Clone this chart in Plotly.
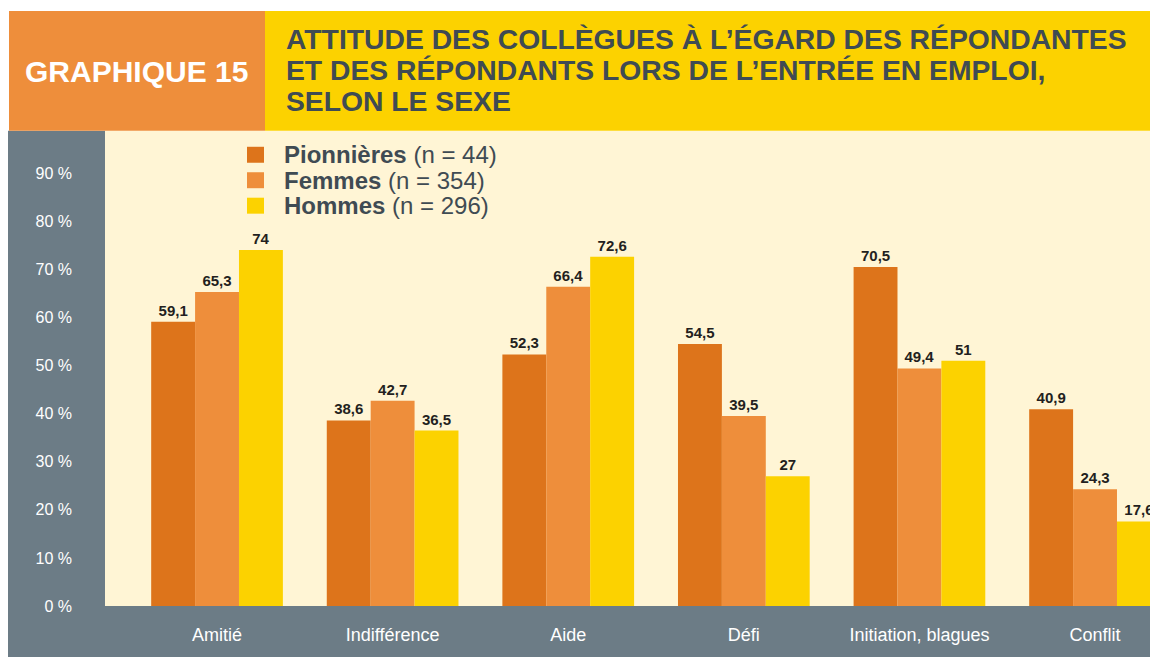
import plotly.graph_objects as go

categories = ["Amitié", "Indifférence", "Aide", "Défi", "Initiation, blagues", "Conflit"]
series = ["Pionnières", "Femmes", "Hommes"]
counts = [44, 354, 296]
pionnieres = [59.1, 38.6, 52.3, 54.5, 70.5, 40.9]
femmes = [65.3, 42.7, 66.4, 39.5, 49.4, 24.3]
hommes = [74, 36.5, 72.6, 27, 51, 17.6]
y_ticks = [0, 10, 20, 30, 40, 50, 60, 70, 80, 90]

colors = ["#DD741B", "#EE8E3B", "#FCD200"]
slate = "#6C7C86"
cream = "#FFF5D5"
ink = "#3F4B53"
sans = "Liberation Sans, Arial, Helvetica, sans-serif"

# the snapshot squeezes the page height a little (668 -> 660), so the figure is
# made 668 tall and laid out in fractions of the 660px target
W, H = 1150, 668
REF_W, REF_H = 1150, 660


def px(x):
    return x / REF_W


def py(y):
    return 1 - y / REF_H


fig = go.Figure()
for name, vals, col in zip(series, [pionnieres, femmes, hommes], colors):
    fig.add_trace(go.Bar(
        x=categories, y=vals, name=name,
        marker=dict(color=col, line=dict(width=0)),
        texttemplate="%{y}", textposition="outside",
        textfont=dict(family=sans, size=15, color="#231F20", weight="bold"),
        cliponaxis=False, showlegend=False,
    ))

shapes = [
    # left slate panel and bottom band
    dict(type="rect", xref="paper", yref="paper", x0=px(8), x1=px(105), y0=py(658), y1=py(131),
         fillcolor=slate, line_width=0, layer="below"),
    dict(type="rect", xref="paper", yref="paper", x0=px(105), x1=px(1150), y0=py(658), y1=py(607),
         fillcolor=slate, line_width=0, layer="below"),
    # header boxes
    dict(type="rect", xref="paper", yref="paper", x0=px(9), x1=px(265), y0=py(131), y1=py(11),
         fillcolor="#EE8E3B", line_width=0, layer="below"),
    dict(type="rect", xref="paper", yref="paper", x0=px(265), x1=px(1150), y0=py(131), y1=py(11),
         fillcolor="#FCD200", line_width=0, layer="below"),
]

annotations = [
    dict(text="<b>GRAPHIQUE 15</b>", x=px(136), y=py(72), xref="paper", yref="paper",
         showarrow=False, xanchor="center", yanchor="middle",
         font=dict(family=sans, size=30, color="white")),
]
title_lines = ["ATTITUDE DES COLLÈGUES À L’ÉGARD DES RÉPONDANTES",
               "ET DES RÉPONDANTS LORS DE L’ENTRÉE EN EMPLOI,",
               "SELON LE SEXE"]
for i, line in enumerate(title_lines):
    annotations.append(dict(text=f"<b>{line}</b>", x=px(284), y=py(39 + 31 * i), xref="paper", yref="paper",
                            showarrow=False, xanchor="left", yanchor="middle",
                            font=dict(family=sans, size=28.3, color=ink)))

# legend
for i, (name, n, col) in enumerate(zip(series, counts, colors)):
    cy = 155 + 25.5 * i
    shapes.append(dict(type="rect", xref="paper", yref="paper", x0=px(247), x1=px(264),
                       y0=py(cy + 8), y1=py(cy - 8), fillcolor=col, line_width=0))
    annotations.append(dict(text=f"<b>{name}</b> (n = {n})", x=px(282), y=py(cy),
                            xref="paper", yref="paper", showarrow=False,
                            xanchor="left", yanchor="middle",
                            font=dict(family=sans, size=24, color=ink)))

fig.update_layout(
    width=W, height=H, autosize=False,
    margin=dict(l=0, r=0, t=0, b=0),
    paper_bgcolor="white", plot_bgcolor=cream,
    barmode="group", bargap=0.25, bargroupgap=0,
    separators=", ",
    shapes=shapes, annotations=annotations,
    xaxis=dict(domain=[px(105), 1], range=[-0.638, 5.313], showgrid=False, zeroline=False,
               showline=False, ticks="", ticklabelstandoff=16,
               tickfont=dict(family=sans, size=18, color="white")),
    yaxis=dict(domain=[py(607), py(131)], range=[0, 98.8], showgrid=False, zeroline=False,
               showline=False, ticks="", tickvals=y_ticks,
               ticktext=[f"{v} %" for v in y_ticks], ticklabelstandoff=32,
               tickfont=dict(family=sans, size=16, color="white")),
)

# drop the default body margin so the figure sits at the window's corner
fig.write_html("out.html", config={"displayModeBar": False},
               post_script="document.body.style.margin = '0px';")
